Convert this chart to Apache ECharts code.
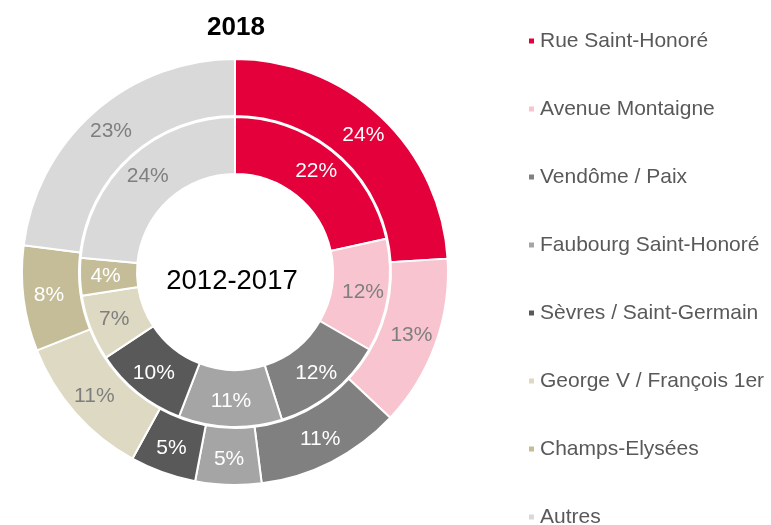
<!DOCTYPE html>
<html>
<head>
<meta charset="utf-8">
<script src="https://cdn.jsdelivr.net/npm/echarts@6/dist/echarts.min.js"></script>
<style>
  html, body { margin: 0; padding: 0; background: #fff; }
  #chart { width: 771px; height: 525px; }
</style>
</head>
<body>
<div id="chart"></div>
<script>
  // quartiers
  const categories = ['Rue Saint-Honoré', 'Avenue Montaigne', 'Vendôme / Paix', 'Faubourg Saint-Honoré',
    'Sèvres / Saint-Germain', 'George V / François 1er', 'Champs-Elysées', 'Autres'];
  const values2018 = [24, 13, 11, 5, 5, 11, 8, 23];
  const values2012_2017 = [22, 12, 12, 11, 10, 7, 4, 24];

  const colors = ['#e4003a', '#f8c4cf', '#808080', '#a5a5a5', '#595959', '#ddd9c3', '#c4bd97', '#d9d9d9'];
  // couleur du texte dans chaque segment
  const labelColors = ['#fff', '#7f7f7f', '#fff', '#fff', '#fff', '#7f7f7f', '#fff', '#7f7f7f'];

  const FONT = 'Liberation Sans, Arial, sans-serif';
  const chart = echarts.init(document.getElementById('chart'));

  function buildData (vals) {
    return vals.map((v, i) => ({
      name: categories[i],
      value: v,
      itemStyle: { color: colors[i] },
      label: { color: labelColors[i] }
    }));
  }

  const ringBase = {
    type: 'pie',
    center: [235, 272],
    startAngle: 90,
    clockwise: true,
    animation: false,
    avoidLabelOverlap: false,
    itemStyle: { borderColor: '#fff', borderWidth: 2 },
    label: {
      show: true,
      position: 'inside',
      formatter: p => p.value + '%',
      fontSize: 21,
      fontFamily: FONT
    },
    labelLine: { show: false },
    emphasis: { disabled: true }
  };

  const option = {
    backgroundColor: '#fff',
    title: {
      text: '2018',
      left: 231,
      top: 10,
      textAlign: 'center',
      textStyle: { fontSize: 26, fontWeight: 'bold', color: '#000', fontFamily: FONT }
    },
    legend: {
      orient: 'vertical',
      left: 527,
      top: 29,
      height: 600,
      padding: 0,
      icon: 'rect',
      itemWidth: 7,
      itemHeight: 7,
      itemGap: 44,
      data: categories,
      textStyle: { fontSize: 21, lineHeight: 24, color: '#595959', fontFamily: FONT }
    },
    graphic: [{
      type: 'text',
      x: 232,
      y: 281,
      z: 100,
      style: {
        text: '2012-2017',
        fontSize: 27.5,
        fill: '#000',
        fontFamily: FONT,
        textAlign: 'center',
        textVerticalAlign: 'middle'
      }
    }],
    series: [
      Object.assign({}, ringBase, { name: '2018', radius: [156, 213], data: buildData(values2018) }),
      Object.assign({}, ringBase, { name: '2012-2017', radius: [98, 155], data: buildData(values2012_2017) })
    ]
  };

  chart.setOption(option);
</script>
</body>
</html>
